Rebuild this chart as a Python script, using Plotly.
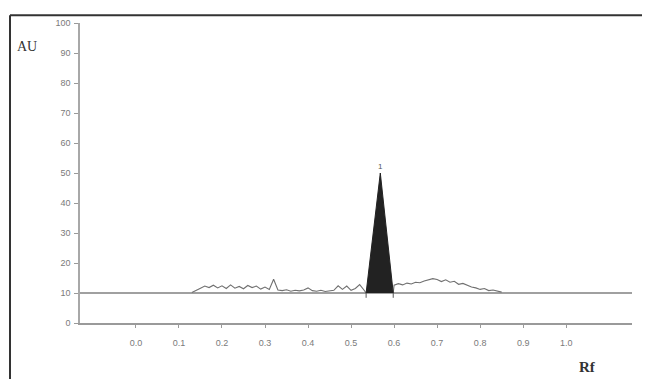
import plotly.graph_objects as go

# ---- data ----
signal_rf = [0.13, 0.14, 0.15, 0.16, 0.17, 0.18, 0.19, 0.20, 0.21, 0.22, 0.23, 0.24,
             0.25, 0.26, 0.27, 0.28, 0.29, 0.30, 0.31, 0.32, 0.33, 0.34, 0.35, 0.36,
             0.37, 0.38, 0.39, 0.40, 0.41, 0.42, 0.43, 0.44, 0.45, 0.46, 0.47, 0.48,
             0.49, 0.50, 0.51, 0.52, 0.53, 0.535]
signal_au = [10.2, 10.8, 11.6, 12.3, 11.8, 12.6, 11.7, 12.4, 11.5, 12.7, 11.6, 12.2,
             11.4, 12.5, 11.8, 12.3, 11.3, 12.0, 11.2, 14.6, 11.0, 10.8, 11.1, 10.6,
             10.9, 10.7, 11.0, 11.7, 10.8, 10.6, 10.9, 10.5, 10.8, 10.9, 12.4, 11.2,
             12.3, 10.9, 11.5, 12.8, 11.0, 10.0]
signal2_rf = [0.598, 0.60, 0.61, 0.62, 0.63, 0.64, 0.65, 0.66, 0.67, 0.68, 0.69, 0.70,
              0.71, 0.72, 0.73, 0.74, 0.75, 0.76, 0.77, 0.78, 0.79, 0.80, 0.81, 0.82,
              0.83, 0.84, 0.85]
signal2_au = [10.0, 12.6, 13.1, 12.7, 13.3, 13.0, 13.6, 13.4, 14.0, 14.3, 14.8, 14.5,
              13.8, 14.4, 13.6, 13.9, 12.9, 13.2, 12.5, 12.0, 11.7, 11.2, 11.5, 10.8,
              11.0, 10.6, 10.3]
peak_rf = [0.535, 0.568, 0.598]
peak_au = [10, 50, 10]
peak_labels = ["1"]
baseline_au = 10

x_ticks = [0.0, 0.1, 0.2, 0.3, 0.4, 0.5, 0.6, 0.7, 0.8, 0.9, 1.0]
x_ticktext = ["0.0", "0.1", "0.2", "0.3", "0.4", "0.5", "0.6", "0.7", "0.8", "0.9", "1.0"]
y_ticks = [0, 10, 20, 30, 40, 50, 60, 70, 80, 90, 100]
y_ticktext = ["0", "10", "20", "30", "40", "50", "60", "70", "80", "90", "100"]

fig = go.Figure()

# baseline at 10 AU
fig.add_trace(go.Scatter(x=[-0.13, 1.153], y=[baseline_au, baseline_au], mode="lines",
                         line=dict(color="#808080", width=1.6), hoverinfo="skip"))
# signal traces
fig.add_trace(go.Scatter(x=signal_rf, y=signal_au, mode="lines",
                         line=dict(color="#707070", width=1.1)))
fig.add_trace(go.Scatter(x=signal2_rf, y=signal2_au, mode="lines",
                         line=dict(color="#707070", width=1.1)))
# filled peak
fig.add_trace(go.Scatter(x=peak_rf, y=peak_au, mode="lines", fill="toself",
                         fillcolor="#222222", line=dict(color="#222222", width=1)))
# base markers of the peak
for xb in [peak_rf[0], peak_rf[-1]]:
    fig.add_trace(go.Scatter(x=[xb, xb], y=[baseline_au, baseline_au - 1.6], mode="lines",
                             line=dict(color="#555555", width=1)))

fig.add_annotation(x=peak_rf[1], y=peak_au[1], text=peak_labels[0], showarrow=False,
                   yshift=7, font=dict(family="Liberation Sans", size=8, color="#555"))

# page body has an 8px margin; figure is sized so the plot lands where the reference has it
fig.update_layout(
    width=642, height=371,
    margin=dict(l=72, r=18, t=10, b=56),
    paper_bgcolor="white", plot_bgcolor="white",
    showlegend=False,
    xaxis=dict(range=[-0.13, 1.153], tickvals=x_ticks, ticktext=x_ticktext,
               showgrid=False, zeroline=False, showline=True, linecolor="#9a9a9a",
               linewidth=1.5, ticks="outside", ticklen=3, tickcolor="#9a9a9a",
               ticklabelstandoff=7,
               tickfont=dict(family="Liberation Sans", size=9, color="#7a7a7a")),
    yaxis=dict(range=[0, 100], tickvals=y_ticks, ticktext=y_ticktext,
               showgrid=False, zeroline=False, showline=True, linecolor="#a8a8a8",
               linewidth=1.5, ticks="outside", ticklen=4, tickcolor="#9a9a9a",
               ticklabelstandoff=2,
               tickfont=dict(family="Liberation Sans", size=9, color="#7a7a7a")),
)

# outer frame (left and top)
fx = (10 - 80) / 552
fy = (323 - 10) / 305
fig.add_shape(type="line", xref="paper", yref="paper", x0=fx, x1=fx,
              y0=fy, y1=-0.2, line=dict(color="#333333", width=2))
fig.add_shape(type="line", xref="paper", yref="paper", x0=fx, x1=1.04,
              y0=fy, y1=fy, line=dict(color="#333333", width=2))

fig.add_annotation(xref="paper", yref="paper", x=(27 - 80) / 552, y=(323 - 42) / 305,
                   xanchor="center", yanchor="middle",
                   text="AU", showarrow=False,
                   font=dict(family="Liberation Serif", size=14, color="#333"))
fig.add_annotation(xref="paper", yref="paper", x=(587 - 80) / 552, y=(323 - 368) / 305,
                   xanchor="center", yanchor="middle",
                   text="<b>Rf</b>", showarrow=False,
                   font=dict(family="Liberation Serif", size=15, color="#333"))

fig.write_html("out.html")
